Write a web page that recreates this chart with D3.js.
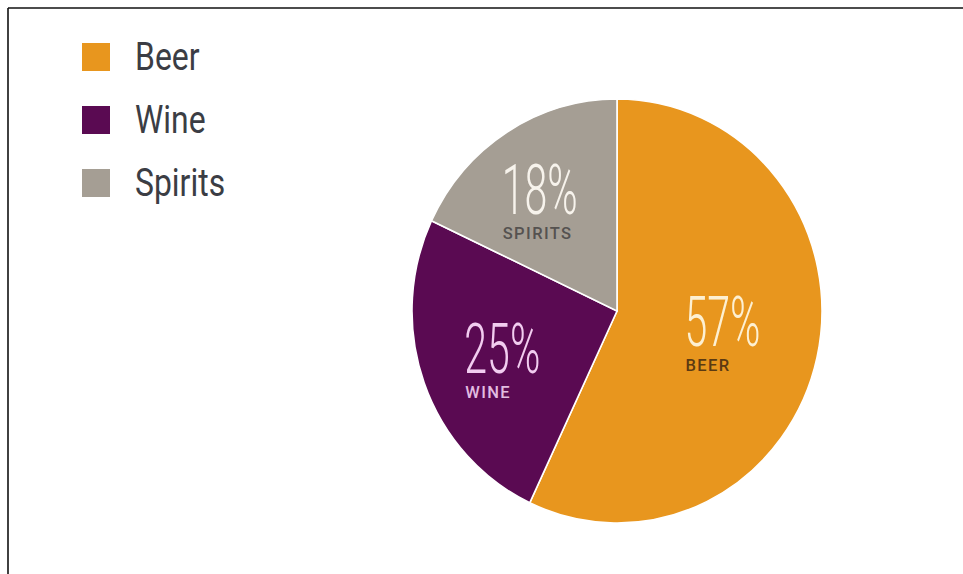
<!DOCTYPE html>
<html>
<head>
<meta charset="utf-8">
<script src="https://cdn.jsdelivr.net/npm/d3@7"></script>
<style>
  html, body { margin: 0; padding: 0; background: #fff; }
  svg { display: block; }
</style>
</head>
<body>
<svg id="chart" width="963" height="574"></svg>
<script>
// ---- data ----
const categories = ["Beer", "Wine", "Spirits"];
const values = [57, 25, 18];
const labels = ["BEER", "WINE", "SPIRITS"];
const colors = ["#E8961E", "#5A0A52", "#A59E94"];

const svg = d3.select("#chart");

// frame (top and left edges visible)
svg.append("line").attr("x1", 8).attr("y1", 8).attr("x2", 963).attr("y2", 8)
  .attr("stroke", "#111").attr("stroke-width", 1.6);
svg.append("line").attr("x1", 8).attr("y1", 8).attr("x2", 8).attr("y2", 574)
  .attr("stroke", "#111").attr("stroke-width", 1.6);

// legend
const legend = svg.append("g");
const legendY = d3.scalePoint().domain(categories).range([43, 169]);
categories.forEach((c, i) => {
  legend.append("rect")
    .attr("x", 82).attr("y", legendY(c)).attr("width", 28).attr("height", 28)
    .attr("fill", colors[i]);
  legend.append("text")
    .attr("transform", `translate(135,${legendY(c) + 27}) scale(0.84,1)`)
    .attr("font-family", "Roboto, sans-serif")
    .attr("font-size", 38)
    .attr("fill", "#3b3d44")
    .text(c);
});

// pie
const cx = 617, cy = 311, R = 205, sy = 212 / 205;
const pie = d3.pie().sort(null).value(d => d)(values);
const arc = d3.arc().innerRadius(0).outerRadius(R);

const pieG = svg.append("g").attr("transform", `translate(${cx},${cy}) scale(1,${sy})`);
pieG.selectAll("path").data(pie).join("path")
  .attr("d", arc)
  .attr("fill", (d, i) => colors[i])
  .attr("stroke", "#fff")
  .attr("stroke-width", 1.6);

// labels
const labelR = [107, 123, 133];
const labelShift = [[0, -2], [0, 6], [-7, 6]];
const bigColors = ["#FDF0D2", "#F2CDF0", "#F7F3EC"];
const smallColors = ["#5B3A12", "#E2BCE0", "#555250"];
pie.forEach((d, i) => {
  const c = d3.arc().innerRadius(labelR[i]).outerRadius(labelR[i]).centroid(d);
  const lx = cx + c[0] - 37 + labelShift[i][0];
  const ly = cy + c[1] * sy + labelShift[i][1];
  svg.append("text")
    .attr("x", lx).attr("y", ly + 13)
    .attr("font-family", "Roboto, sans-serif")
    .attr("font-weight", 300)
    .attr("font-size", 70)
    .attr("textLength", 76)
    .attr("lengthAdjust", "spacingAndGlyphs")
    .attr("fill", bigColors[i])
    .text(values[i] + "%");
  svg.append("text")
    .attr("x", lx + 1).attr("y", ly + 38)
    .attr("font-family", "Roboto, sans-serif")
    .attr("font-weight", 500)
    .attr("font-size", 16.5)
    .attr("letter-spacing", 1.4)
    .attr("fill", smallColors[i])
    .text(labels[i]);
});
</script>
</body>
</html>
